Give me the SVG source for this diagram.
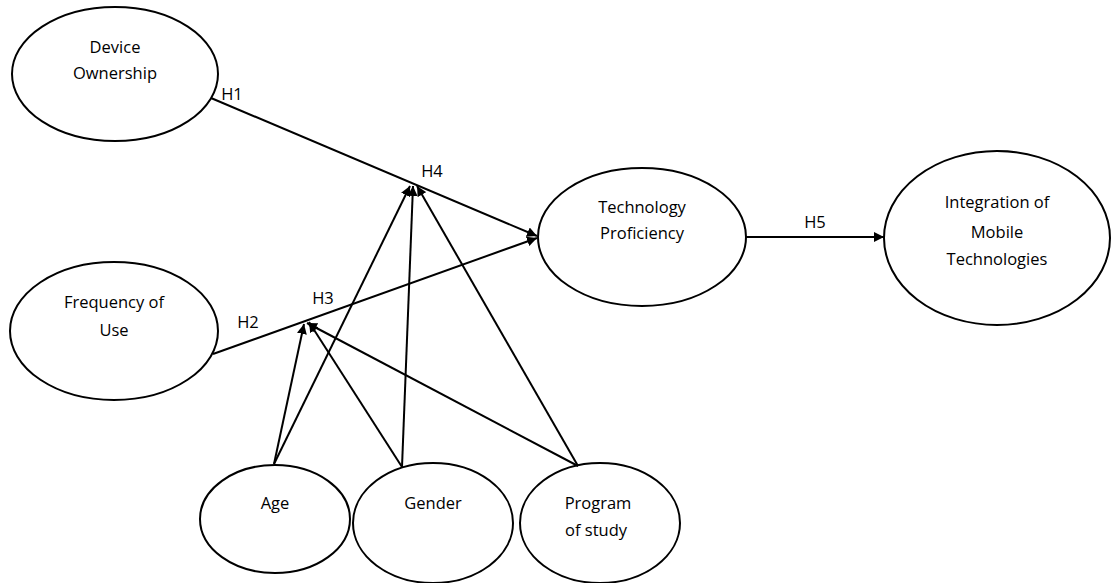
<svg xmlns="http://www.w3.org/2000/svg" width="1113" height="583" viewBox="0 0 1113 583">
<style>
.n ellipse{fill:#fff;stroke:#000;stroke-width:2}
text{font-family:"Open Sans","Liberation Sans",sans-serif;font-size:16.5px;fill:#000;text-anchor:middle}
.c line{stroke:#000;stroke-width:2}
</style>
<defs>
<marker id="ah" viewBox="0 0 10 10" refX="10" refY="5" markerWidth="5" markerHeight="5" orient="auto" markerUnits="strokeWidth">
<path d="M0,0 L10,5 L0,10 z" fill="#000"/>
</marker>
</defs>
<rect width="1113" height="583" fill="#fff"/>
<g id="device"><g class="n"><ellipse cx="115" cy="74" rx="103" ry="67"/></g><text x="115" y="53">Device</text><text x="115" y="79">Ownership</text></g>
<g id="frequency"><g class="n"><ellipse cx="114" cy="331" rx="104" ry="69"/></g><text x="114" y="308">Frequency of</text><text x="114" y="336">Use</text></g>
<g id="tech"><g class="n"><ellipse cx="642" cy="237" rx="104" ry="69"/></g><text x="642" y="213">Technology</text><text x="642" y="239">Proficiency</text></g>
<g id="integration"><g class="n"><ellipse cx="997" cy="238" rx="113" ry="87"/></g><text x="997" y="208">Integration of</text><text x="997" y="238">Mobile</text><text x="997" y="265">Technologies</text></g>
<g id="age"><g class="n"><ellipse cx="275" cy="519" rx="75" ry="54"/></g><text x="275" y="509">Age</text></g>
<g id="gender"><g class="n"><ellipse cx="433" cy="523" rx="80" ry="60"/></g><text x="433" y="509">Gender</text></g>
<g id="program"><g class="n"><ellipse cx="600" cy="523" rx="80" ry="60"/></g><text x="598" y="509">Program</text><text x="596" y="536">of study</text></g>
<g id="connectors" class="c">
<line x1="211" y1="98" x2="537" y2="236" marker-end="url(#ah)"/>
<line x1="213" y1="354" x2="537" y2="238" marker-end="url(#ah)"/>
<line x1="746" y1="237" x2="884" y2="237" marker-end="url(#ah)"/>
<line x1="274" y1="464" x2="410" y2="186" marker-end="url(#ah)"/>
<line x1="402" y1="467" x2="413" y2="186" marker-end="url(#ah)"/>
<line x1="578" y1="466" x2="417" y2="186" marker-end="url(#ah)"/>
<line x1="274" y1="464" x2="304" y2="324" marker-end="url(#ah)"/>
<line x1="402" y1="467" x2="309" y2="322" marker-end="url(#ah)"/>
<line x1="578" y1="466" x2="307" y2="323" marker-end="url(#ah)"/>
</g>
<g id="labels">
<text x="232" y="100">H1</text>
<text x="248" y="328">H2</text>
<text x="323" y="304">H3</text>
<text x="432" y="177">H4</text>
<text x="815" y="228">H5</text>
</g>
</svg>
